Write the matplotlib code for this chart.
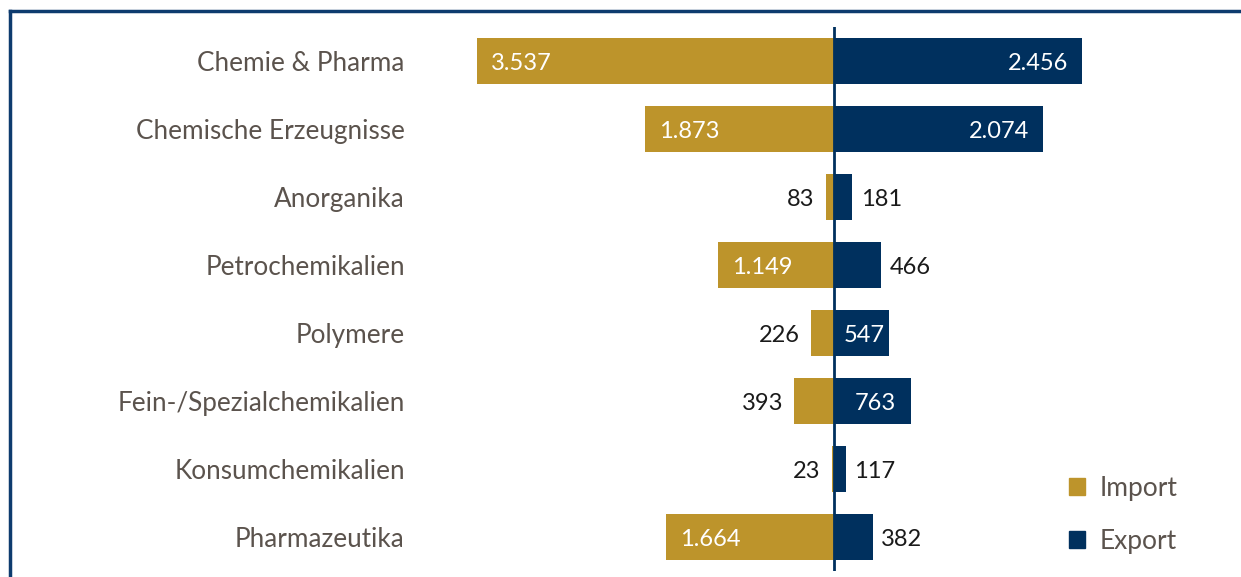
import matplotlib.pyplot as plt
from matplotlib.lines import Line2D
from matplotlib.patches import Patch

categories = ["Chemie & Pharma", "Chemische Erzeugnisse", "Anorganika", "Petrochemikalien",
              "Polymere", "Fein-/Spezialchemikalien", "Konsumchemikalien", "Pharmazeutika"]
imports = [3537, 1873, 83, 1149, 226, 393, 23, 1664]
exports = [2456, 2074, 181, 466, 547, 763, 117, 382]

gold = "#BD942B"
navy = "#00305E"
txt_gray = "#5B534D"
plt.rcParams["font.family"] = ["Lato", "DejaVu Sans"]

def fmt(v):
    return f"{v:,}".replace(",", ".")

fig = plt.figure(figsize=(12.41, 5.77), dpi=100)
ax = fig.add_axes([0.3631, 0.0104, 0.6301, 0.9428])

y = list(range(len(categories)))
ax.barh(y, [-v for v in imports], height=0.68, color=gold, label="Import")
ax.barh(y, exports, height=0.68, color=navy, label="Export")
ax.axvline(0, color=navy, lw=2)

ax.set_xlim(-3800, 3950)
ax.set_ylim(7.5, -0.5)
ax.set_yticks(y)
ax.set_yticklabels(categories, fontsize=18.8, color=txt_gray)
ax.tick_params(axis="y", length=0, pad=33)
ax.set_xticks([])
for s in ax.spines.values():
    s.set_visible(False)

# value labels
for i in y:
    v = imports[i]
    if v >= 1000:
        ax.annotate(fmt(v), (-v, i), xytext=(10, -1.5), textcoords="offset points",
                    ha="left", va="center", color="white", fontsize=17)
    else:
        ax.annotate(fmt(v), (-v, i), xytext=(-8, -1.5), textcoords="offset points",
                    ha="right", va="center", color="#1a1a1a", fontsize=17)
    v = exports[i]
    if v >= 1000:
        ax.annotate(fmt(v), (v, i), xytext=(-10, -1.5), textcoords="offset points",
                    ha="right", va="center", color="white", fontsize=17)
    elif v >= 500:
        ax.annotate(fmt(v), (v / 2, i), xytext=(2, -1.5), textcoords="offset points",
                    ha="center", va="center", color="white", fontsize=17)
    else:
        ax.annotate(fmt(v), (v, i), xytext=(6, -1.5), textcoords="offset points",
                    ha="left", va="center", color="#1a1a1a", fontsize=17)

handles = [Patch(color=gold), Patch(color=navy)]
leg = ax.legend(handles, ["Import", "Export"], loc="center left",
                bbox_to_anchor=(1069 / 1241, (577 - 515) / 577), bbox_transform=fig.transFigure,
                frameon=False, fontsize=19, handlelength=0.6, handleheight=0.6,
                handletextpad=0.57, labelspacing=1.05, borderpad=0, borderaxespad=0)
for t in leg.get_texts():
    t.set_color(txt_gray)

# frame lines on top and left
fig.add_artist(Line2D([10 / 1241, 1], [1 - 11 / 577, 1 - 11 / 577], transform=fig.transFigure,
                      color="#0D3B6E", lw=2.5))
fig.add_artist(Line2D([10 / 1241, 10 / 1241], [0, 1 - 11 / 577], transform=fig.transFigure,
                      color="#0D3B6E", lw=2.5))

fig.savefig("out.png", dpi=100)
